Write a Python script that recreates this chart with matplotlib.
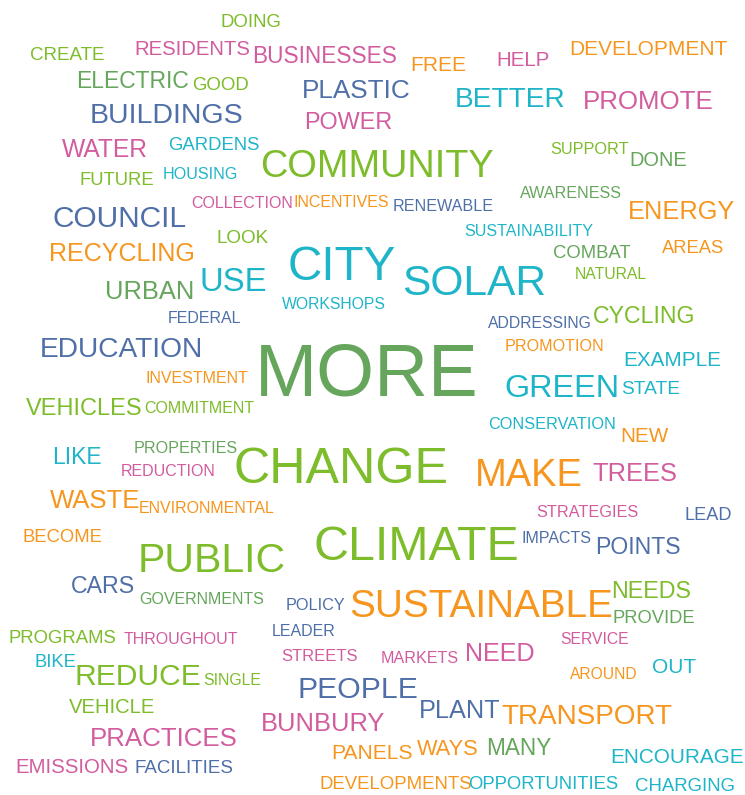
import matplotlib
matplotlib.use("Agg")
import matplotlib.pyplot as plt

# ---- data: words, their weights (relative frequency) and colour group ----
words = ["DOING", "CREATE", "RESIDENTS", "BUSINESSES", "FREE", "HELP", "DEVELOPMENT",
         "ELECTRIC", "GOOD", "PLASTIC", "BETTER", "PROMOTE", "BUILDINGS", "POWER",
         "WATER", "GARDENS", "SUPPORT", "DONE", "COMMUNITY", "FUTURE", "HOUSING",
         "AWARENESS", "COLLECTION", "INCENTIVES", "RENEWABLE", "ENERGY", "COUNCIL",
         "SUSTAINABILITY", "LOOK", "COMBAT", "AREAS", "RECYCLING", "CITY", "SOLAR",
         "NATURAL", "USE", "URBAN", "WORKSHOPS", "FEDERAL", "CYCLING", "ADDRESSING",
         "EDUCATION", "MORE", "PROMOTION", "EXAMPLE", "INVESTMENT", "STATE", "GREEN",
         "VEHICLES", "COMMITMENT", "CONSERVATION", "NEW", "PROPERTIES", "LIKE",
         "REDUCTION", "CHANGE", "MAKE", "TREES", "WASTE", "ENVIRONMENTAL", "STRATEGIES",
         "LEAD", "BECOME", "CLIMATE", "IMPACTS", "POINTS", "PUBLIC", "CARS",
         "GOVERNMENTS", "POLICY", "SUSTAINABLE", "NEEDS", "PROVIDE", "PROGRAMS",
         "THROUGHOUT", "LEADER", "SERVICE", "STREETS", "MARKETS", "NEED", "BIKE",
         "REDUCE", "SINGLE", "OUT", "AROUND", "PEOPLE", "VEHICLE", "PLANT", "TRANSPORT",
         "BUNBURY", "PRACTICES", "PANELS", "WAYS", "MANY", "ENCOURAGE", "EMISSIONS",
         "FACILITIES", "DEVELOPMENTS", "OPPORTUNITIES", "CHARGING"]

weights = [14, 15, 16, 17, 17, 16, 17,
           17, 15, 21, 22, 21, 23, 18,
           19, 15, 13, 15, 29, 15, 13,
           13, 13, 13, 13, 19, 22,
           13, 15, 14, 14, 19, 37, 33,
           12, 26, 20, 12, 13, 18, 12,
           22, 56, 13, 17, 13, 14, 25,
           19, 13, 13, 16, 13, 17,
           13, 40, 31, 19, 20, 13, 13,
           14, 15, 38, 12, 18, 33, 18,
           13, 13, 31, 18, 14, 15,
           13, 13, 12, 14, 13, 19, 14,
           23, 12, 16, 12, 23, 15, 19, 21,
           19, 20, 16, 17, 17, 17, 16,
           15, 15, 15, 15]

groups = ["L", "L", "P", "P", "O", "P", "O",
          "G", "L", "B", "T", "P", "B", "P",
          "P", "T", "L", "G", "L", "L", "T",
          "G", "P", "O", "B", "O", "B",
          "T", "L", "G", "O", "O", "T", "T",
          "L", "T", "G", "T", "B", "L", "B",
          "B", "G", "O", "T", "O", "T", "T",
          "L", "L", "T", "O", "G", "T",
          "P", "L", "O", "P", "O", "O", "P",
          "B", "O", "L", "B", "B", "L", "B",
          "G", "B", "O", "L", "G", "L",
          "P", "B", "P", "P", "P", "P", "T",
          "L", "L", "T", "O", "B", "L", "B", "O",
          "P", "P", "O", "O", "G", "T", "P",
          "B", "O", "T", "T"]

# ---- layout (pixel coordinates of the word cloud): horizontal extents and baselines ----
x_left = [222, 32, 137, 254, 412, 498, 574,
          78, 194, 305, 457, 587, 94, 306,
          64, 171, 553, 631, 264, 82, 165,
          523, 194, 296, 396, 630, 54,
          468, 218, 555, 664, 51, 290, 405,
          576, 202, 108, 284, 170, 596, 490,
          43, 258, 508, 627, 149, 623, 507,
          29, 148, 492, 622, 137, 53,
          124, 238, 478, 594, 52, 142, 539,
          686, 25, 318, 523, 597, 142, 73,
          143, 288, 355, 613, 614, 12,
          127, 274, 562, 285, 383, 467, 36,
          77, 205, 654, 572, 300, 70, 421, 504,
          263, 93, 333, 419, 488, 617, 18,
          137, 323, 472, 638]
x_right = [280, 102, 248, 395, 464, 548, 723,
           188, 247, 407, 563, 710, 239, 390,
           146, 257, 626, 686, 490, 152, 235,
           619, 290, 386, 491, 733, 185,
           589, 267, 629, 723, 193, 393, 543,
           645, 265, 192, 384, 239, 693, 590,
           200, 476, 601, 718, 245, 679, 617,
           139, 251, 612, 667, 234, 100,
           213, 443, 579, 675, 138, 271, 635,
           730, 100, 515, 590, 678, 282, 133,
           261, 343, 607, 689, 693, 113,
           234, 333, 627, 355, 456, 533, 75,
           199, 260, 695, 636, 416, 154, 499, 670,
           383, 234, 411, 477, 550, 743, 126,
           230, 468, 614, 732]
baselines = [27, 60, 55, 63, 71, 66, 55,
             88, 90, 98, 107, 109, 123, 129,
             157, 150, 154, 166, 177, 185, 179,
             198, 208, 207, 211, 219, 227,
             236, 243, 258, 253, 261, 280, 295,
             279, 291, 299, 309, 323, 323, 328,
             357, 395, 351, 366, 383, 394, 397,
             415, 413, 429, 442, 453, 464,
             476, 483, 486, 481, 508, 513, 517,
             520, 542, 560, 543, 554, 572, 593,
             604, 610, 617, 598, 623, 643,
             644, 636, 644, 661, 663, 661, 667,
             685, 685, 673, 679, 698, 713, 718, 724,
             731, 746, 759, 755, 755, 763, 773,
             773, 789, 789, 791]

palette = {"G": "#66a65c", "L": "#7dbc2a", "P": "#d25c9e",
           "O": "#f7961e", "T": "#1eb5c8", "B": "#4f6fa8"}

W, H, DPI = 745, 795, 100
CAP = 0.716  # cap-height fraction of the em for Arial-metric fonts

fig = plt.figure(figsize=(W / DPI, H / DPI), dpi=DPI)
ax = fig.add_axes([0, 0, 1, 1])
ax.set_xlim(0, W)
ax.set_ylim(H, 0)
ax.axis("off")

texts = []
for w, wt, g, xl, xr, yb in zip(words, weights, groups, x_left, x_right, baselines):
    size_pt = wt / CAP * 72.0 / DPI
    t = ax.text((xl + xr) / 2.0, yb, w, ha="center", va="baseline",
                fontsize=size_pt, color=palette[g], family="Liberation Sans")
    texts.append((t, xr - xl))

# fit each word's size to the width it occupies in the cloud (blend with cap height)
fig.canvas.draw()
renderer = fig.canvas.get_renderer()
for t, target in texts:
    cur = t.get_window_extent(renderer).width
    s = t.get_fontsize()
    new = s * (target + 2.0) / cur
    if new < s:
        t.set_fontsize(0.75 * new + 0.25 * s)
    else:
        t.set_fontsize(0.5 * (s + new))

# keep every word inside the canvas
fig.canvas.draw()
for t, _ in texts:
    bb = t.get_window_extent(renderer)
    x, y = t.get_position()
    if bb.x1 > W - 1:
        t.set_position((x - (bb.x1 - (W - 1)), y))
    elif bb.x0 < 1:
        t.set_position((x + (1 - bb.x0), y))

fig.savefig("out.png", dpi=DPI)
